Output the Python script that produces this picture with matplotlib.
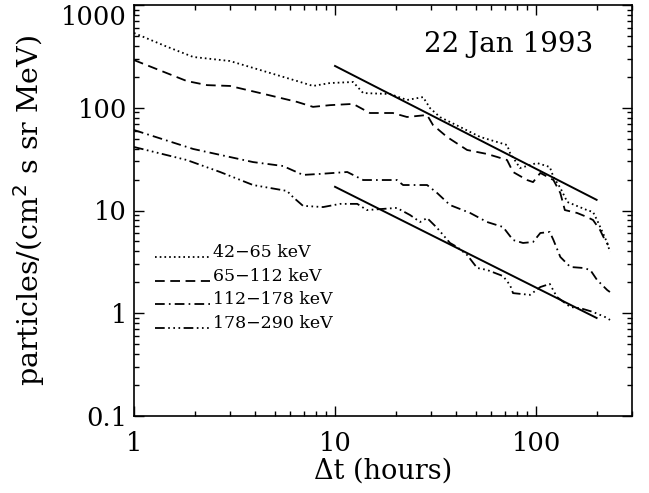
import matplotlib
matplotlib.use("Agg")
import matplotlib.pyplot as plt
from matplotlib.ticker import FixedLocator, FixedFormatter, NullFormatter
from matplotlib.legend_handler import HandlerLine2D

# ---------------- data ----------------
x_42_65 = [1.00, 1.43, 1.97, 3.00, 4.24, 6.47, 7.77, 9.44, 12.3, 13.8, 18.8, 22.8, 27.4, 29.7,
           33.3, 41.9, 52.7, 71.7, 74.2, 83.2, 101, 117, 122, 132, 143, 179, 192, 201, 215, 226, 233]
y_42_65 = [534, 399, 312, 285, 233, 182, 163, 174, 178, 139, 136, 119, 127, 99,
           81, 65, 52, 43.4, 36.3, 25.9, 29.0, 26.5, 21.2, 16.6, 12.1, 10.1, 9.67, 8.08, 6.04, 4.83, 3.95]

x_65_112 = [1.00, 1.83, 2.31, 3.00, 4.24, 6.47, 7.77, 9.44, 12.3, 14.9, 19.4, 22.8, 28.7, 30.7,
            36.1, 45.4, 57.0, 64.0, 71.7, 76.8, 90.2, 96.6, 105, 122, 132, 139, 160, 179, 192, 208, 220, 228]
y_65_112 = [291, 182, 166, 163, 139, 114, 102, 106, 109, 88.9, 88.9, 81.3, 85.0, 67.9,
            51.9, 38.8, 35.5, 33.2, 31.0, 23.7, 19.8, 18.9, 23.2, 19.8, 14.8, 10.1, 9.46, 8.65, 8.08, 6.46, 5.16, 4.62]

x_112_178 = [1.00, 1.97, 3.91, 5.51, 6.93, 8.42, 11.5, 13.8, 20.3, 21.8, 28.7, 32.2, 37.3, 47.0,
             57.0, 68.5, 76.8, 86.1, 96.6, 105, 117, 122, 132, 148, 171, 186, 201, 226, 233]
y_112_178 = [60.7, 39.7, 29.6, 27.1, 22.2, 22.7, 23.7, 19.8, 19.8, 17.7, 17.7, 14.8, 11.3, 9.46,
             7.73, 6.91, 5.16, 4.83, 4.94, 6.04, 6.18, 5.16, 3.53, 2.82, 2.76, 2.64, 2.11, 1.68, 1.61]

x_178_290 = [1.00, 1.83, 2.68, 3.91, 5.77, 6.18, 6.93, 8.72, 10.6, 12.9, 14.4, 20.3, 23.6, 26.5,
             28.7, 32.2, 37.3, 40.5, 45.4, 50.9, 57.0, 68.5, 74.2, 76.8, 93.3, 105, 117, 127, 148,
             166, 192, 226, 233]
y_178_290 = [41.5, 31.0, 23.7, 17.7, 15.5, 13.5, 11.1, 10.8, 11.6, 11.6, 10.1, 10.6, 9.04, 7.73,
             8.45, 6.76, 4.83, 4.41, 3.69, 2.76, 2.64, 2.30, 1.88, 1.57, 1.51, 1.80, 1.93, 1.44, 1.15,
             1.12, 1.03, 0.90, 0.86]

fit_x = [10, 200]
fit_upper = [255, 12.7]
fit_lower = [17, 0.9]

labels = ["42\u221265 keV", "65\u2212112 keV", "112\u2212178 keV", "178\u2212290 keV"]
x_ticks = [1, 10, 100]
x_tick_labels = ["1", "10", "100"]
y_ticks = [0.1, 1, 10, 100, 1000]
y_tick_labels = ["0.1", "1", "10", "100", "1000"]
title_text = "22 Jan 1993"

# ---------------- style ----------------
plt.rcParams["font.family"] = ["DejaVu Serif"]
plt.rcParams["lines.scale_dashes"] = False
plt.rcParams["axes.linewidth"] = 1.2


class BaselineHandler(HandlerLine2D):
    """Legend line drawn near the text baseline (as in the original)."""
    def create_artists(self, legend, orig_handle, xdescent, ydescent,
                       width, height, fontsize, trans):
        return super().create_artists(legend, orig_handle, xdescent,
                                      ydescent + 0.7 * fontsize, width, height,
                                      fontsize, trans)


fig = plt.figure(figsize=(6.49, 4.93), dpi=100)
ax = fig.add_axes([134/649, 77/493, 498/649, 411/493])

lw = 1.3
styles = [
    (0, (1.2, 2.2)),
    (0, (7, 4)),
    (0, (7, 3, 1.2, 3)),
    (0, (7, 2.5, 1.2, 2.5, 1.2, 2.5, 1.2, 2.5)),
]
series = [(x_42_65, y_42_65), (x_65_112, y_65_112), (x_112_178, y_112_178), (x_178_290, y_178_290)]
handles = []
for (xs, ys), ls, lab in zip(series, styles, labels):
    h, = ax.plot(xs, ys, color="black", lw=lw, linestyle=ls, label=lab)
    handles.append(h)

ax.plot(fit_x, fit_upper, color="black", lw=1.4)
ax.plot(fit_x, fit_lower, color="black", lw=1.4)

ax.set_xscale("log")
ax.set_yscale("log")
ax.set_xlim(1, 300)
ax.set_ylim(0.1, 1000)

ax.xaxis.set_major_locator(FixedLocator(x_ticks))
ax.xaxis.set_major_formatter(FixedFormatter(x_tick_labels))
ax.yaxis.set_major_locator(FixedLocator(y_ticks))
ax.yaxis.set_major_formatter(FixedFormatter(y_tick_labels))
ax.xaxis.set_minor_formatter(NullFormatter())
ax.yaxis.set_minor_formatter(NullFormatter())

ax.tick_params(which="both", direction="in", top=True, right=True, width=1.0, colors="black")
ax.tick_params(which="major", length=7)
ax.tick_params(which="minor", length=3.5)
ax.tick_params(axis="x", which="major", labelsize=18.5, pad=11)
ax.tick_params(axis="y", which="major", labelsize=18.5, pad=5)

ax.set_xlabel("\u0394t (hours)", fontsize=19.5, labelpad=1)
ax.set_ylabel("particles/(cm$^2$ s sr MeV)", fontsize=20.5, labelpad=10)

ax.text(0.922, 0.905, title_text, transform=ax.transAxes, ha="right", va="center", fontsize=20)

leg = ax.legend(handles=handles, loc="upper left", bbox_to_anchor=(0.042, 0.418), frameon=False,
                fontsize=12.5, handlelength=3.2, handletextpad=0.15, labelspacing=0.38,
                borderpad=0, borderaxespad=0,
                handler_map={h: BaselineHandler() for h in handles})

fig.canvas.draw()
# the top label sits just below the frame, as in the original
top_lab = [t for t in ax.get_yticklabels() if t.get_text() == "1000"]
for t in top_lab:
    t.set_verticalalignment("top")

fig.savefig("out.png", dpi=100)
